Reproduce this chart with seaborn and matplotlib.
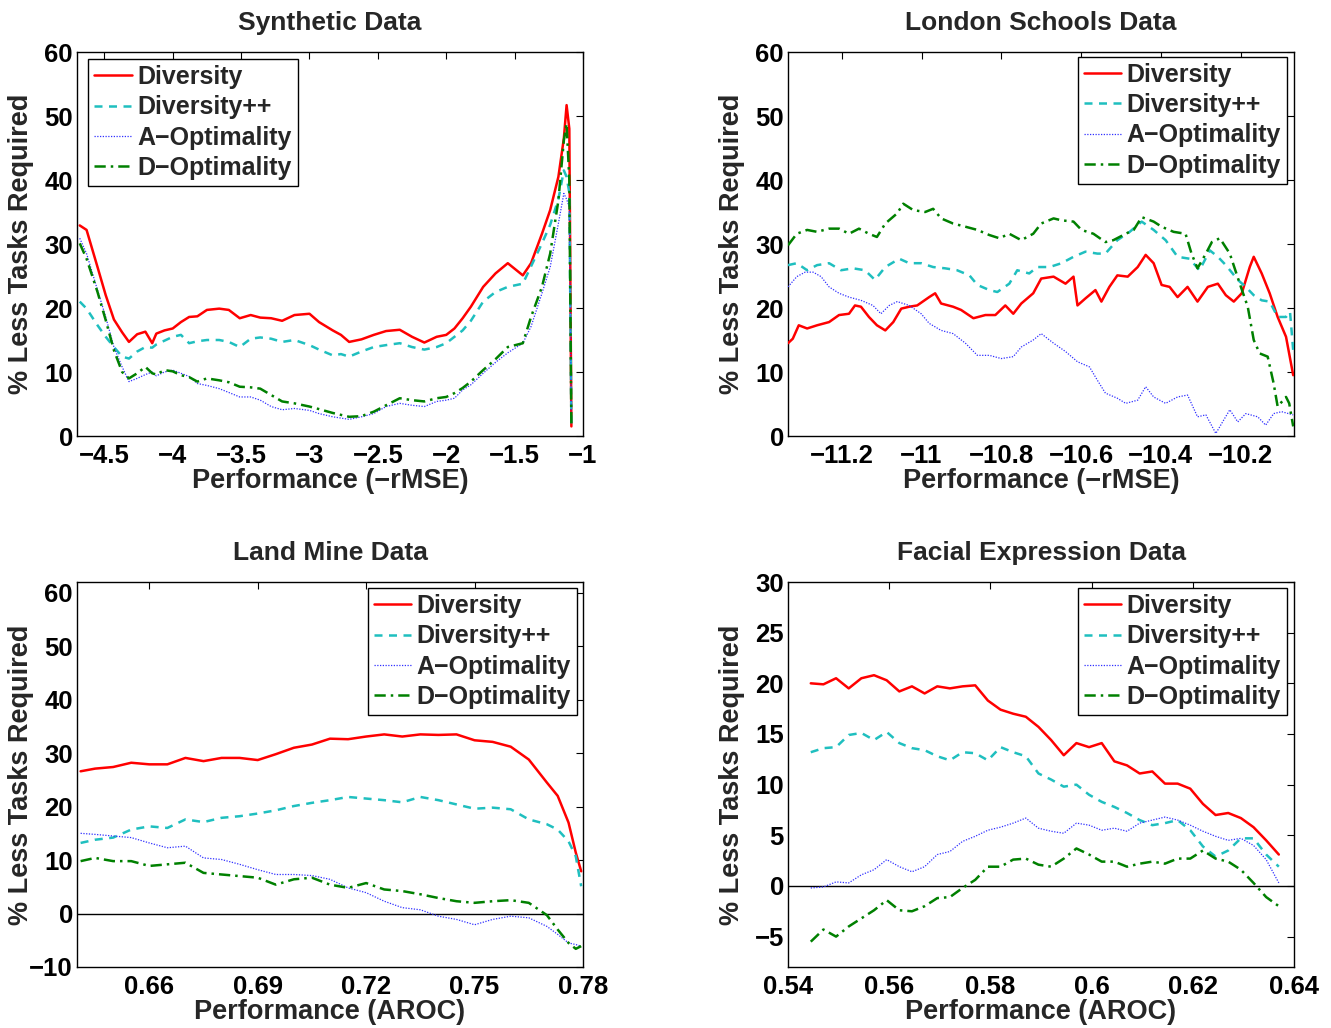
import pandas as pd
import matplotlib
matplotlib.use("Agg")
import matplotlib.pyplot as plt
import seaborn as sns

# =========================================================
# DATA
# =========================================================

METHODS = ["Diversity", "Diversity++", "A\u2212Optimality", "D\u2212Optimality"]

# --- Synthetic data ---
SYN_X = [-4.68, -4.63, -4.55, -4.49, -4.43, -4.37, -4.32, -4.26, -4.20, -4.15,
         -4.12, -4.06, -4.00, -3.94, -3.88, -3.82, -3.75, -3.66, -3.59, -3.51,
         -3.43, -3.36, -3.28, -3.20, -3.11, -3.00, -2.93, -2.83, -2.77, -2.71,
         -2.62, -2.53, -2.44, -2.34, -2.25, -2.16, -2.07, -2.00, -1.94, -1.88,
         -1.82, -1.73, -1.64, -1.55, -1.44, -1.38, -1.30, -1.24, -1.18, -1.14,
         -1.12, -1.10, -1.085]
SYN_DIV = [32.9, 32.2, 26.4, 22.0, 18.2, 16.2, 14.7, 15.9, 16.3, 14.5,
           16.0, 16.5, 16.8, 17.8, 18.6, 18.7, 19.7, 19.9, 19.7, 18.4,
           18.9, 18.5, 18.4, 18.0, 18.9, 19.1, 17.8, 16.5, 15.8, 14.7,
           15.1, 15.8, 16.4, 16.6, 15.5, 14.6, 15.5, 15.8, 16.8, 18.4,
           20.2, 23.3, 25.4, 27.0, 25.1, 27.0, 31.6, 35.3, 40.5, 46.5,
           51.7, 48.0, 1.5]
SYN_DIVPP = [21.0, 19.9, 17.3, 15.5, 13.9, 12.4, 12.1, 13.2, 13.9, 13.8,
             14.3, 14.9, 15.5, 15.8, 14.5, 14.8, 15.0, 15.0, 14.7, 13.9,
             15.2, 15.4, 15.2, 14.7, 15.0, 14.2, 13.5, 12.6, 12.8, 12.4,
             13.2, 13.9, 14.2, 14.5, 13.9, 13.5, 13.9, 14.5, 15.5, 16.5,
             18.0, 21.0, 22.5, 23.3, 23.8, 26.5, 30.1, 33.0, 37.0, 41.5,
             40.5, 38.0, 2.0]
SYN_AOPT = [30.9, 28.5, 22.8, 18.6, 13.9, 10.8, 8.5, 9.0, 9.6, 10.0,
            9.4, 10.0, 10.3, 9.8, 9.3, 8.2, 7.9, 7.4, 6.8, 6.1,
            6.1, 5.6, 4.6, 4.1, 4.3, 4.0, 3.5, 3.0, 2.8, 2.6,
            3.0, 3.5, 4.6, 5.1, 4.8, 4.6, 5.4, 5.6, 5.9, 7.2,
            8.0, 9.8, 11.5, 13.0, 14.5, 17.1, 22.3, 26.4, 33.2, 37.9,
            37.0, 35.8, 2.0]
SYN_DOPT = [30.1, 27.7, 22.5, 18.1, 13.4, 10.0, 9.0, 9.8, 10.8, 9.8,
            9.6, 10.3, 10.1, 9.5, 9.2, 8.5, 9.0, 8.7, 8.4, 7.7,
            7.6, 7.4, 6.4, 5.4, 5.1, 4.6, 4.2, 3.6, 3.3, 3.0,
            3.1, 3.8, 4.8, 5.9, 5.6, 5.4, 5.9, 6.1, 6.7, 7.5,
            8.5, 10.3, 12.0, 13.9, 14.5, 18.6, 23.3, 28.5, 36.8, 46.2,
            48.8, 40.0, 1.5]

# --- London schools data ---
LON_DIV_X = [-11.335, -11.323, -11.308, -11.287, -11.262, -11.232, -11.207, -11.182,
             -11.167, -11.152, -11.132, -11.112, -11.091, -11.071, -11.051, -11.031,
             -11.011, -10.981, -10.966, -10.951, -10.921, -10.901, -10.870, -10.840,
             -10.815, -10.790, -10.770, -10.750, -10.720, -10.700, -10.669, -10.639,
             -10.619, -10.609, -10.589, -10.564, -10.549, -10.529, -10.509, -10.483,
             -10.458, -10.438, -10.418, -10.398, -10.378, -10.358, -10.333, -10.308,
             -10.282, -10.257, -10.237, -10.217, -10.197, -10.177, -10.167, -10.147,
             -10.127, -10.107, -10.086, -10.068]
LON_DIV = [14.5, 15.2, 17.3, 16.8, 17.3, 17.8, 18.9, 19.1,
           20.4, 20.2, 18.6, 17.3, 16.5, 17.8, 19.9, 20.2,
           20.4, 21.7, 22.3, 20.7, 20.2, 19.7, 18.4, 18.9,
           18.9, 20.4, 19.1, 20.7, 22.3, 24.6, 24.9, 23.8,
           24.9, 20.4, 21.5, 22.8, 21.0, 23.3, 25.1, 24.9,
           26.4, 28.3, 27.0, 23.6, 23.3, 21.7, 23.3, 21.0,
           23.3, 23.8, 22.0, 21.0, 22.3, 26.4, 28.0, 25.4,
           22.3, 18.6, 15.5, 9.5]
LON_DIVPP_X = [-11.335, -11.313, -11.287, -11.262, -11.232, -11.202, -11.172, -11.142,
               -11.117, -11.091, -11.056, -11.031, -11.001, -10.971, -10.941, -10.911,
               -10.880, -10.860, -10.830, -10.810, -10.780, -10.760, -10.730, -10.710,
               -10.679, -10.649, -10.619, -10.589, -10.559, -10.539, -10.509, -10.478,
               -10.448, -10.418, -10.388, -10.358, -10.328, -10.303, -10.277, -10.257,
               -10.237, -10.207, -10.187, -10.167, -10.147, -10.127, -10.107, -10.086,
               -10.076, -10.068]
LON_DIVPP = [26.7, 27.0, 25.9, 26.7, 27.0, 25.9, 26.2, 25.9,
             24.4, 26.4, 27.7, 27.0, 27.0, 26.4, 26.2, 25.9,
             25.1, 23.6, 22.8, 22.5, 23.8, 25.9, 25.4, 26.4,
             26.4, 27.0, 28.0, 28.8, 28.5, 28.5, 30.6, 31.9,
             33.5, 32.2, 30.6, 28.0, 27.7, 25.9, 29.0, 28.0,
             26.7, 24.4, 23.3, 22.0, 21.2, 21.0, 18.6, 18.6,
             19.4, 13.4]
LON_AOPT_X = [-11.335, -11.313, -11.292, -11.272, -11.252, -11.232, -11.207, -11.182,
              -11.152, -11.122, -11.102, -11.081, -11.061, -11.031, -11.001, -10.981,
              -10.951, -10.921, -10.890, -10.860, -10.830, -10.800, -10.770, -10.750,
              -10.720, -10.700, -10.669, -10.639, -10.609, -10.579, -10.559, -10.539,
              -10.509, -10.488, -10.458, -10.438, -10.418, -10.388, -10.358, -10.333,
              -10.308, -10.287, -10.262, -10.247, -10.227, -10.207, -10.187, -10.157,
              -10.137, -10.117, -10.097, -10.068]
LON_AOPT = [23.3, 24.9, 25.6, 25.6, 24.9, 23.3, 22.3, 21.7,
            21.2, 20.4, 19.1, 20.4, 21.0, 20.4, 19.1, 17.6,
            16.5, 16.0, 14.5, 12.6, 12.6, 12.1, 12.4, 13.9,
            15.0, 16.0, 14.5, 13.2, 11.6, 10.8, 8.7, 6.7,
            5.9, 5.1, 5.6, 7.7, 6.1, 5.1, 6.1, 6.4,
            3.0, 3.3, 0.4, 2.0, 4.1, 2.2, 3.5, 3.0,
            1.7, 3.5, 3.8, 3.3]
LON_DOPT_X = [-11.335, -11.313, -11.287, -11.262, -11.232, -11.207, -11.182, -11.157,
              -11.132, -11.112, -11.091, -11.061, -11.046, -11.021, -10.991, -10.971,
              -10.951, -10.921, -10.890, -10.860, -10.830, -10.805, -10.780, -10.750,
              -10.720, -10.700, -10.669, -10.649, -10.619, -10.599, -10.569, -10.539,
              -10.519, -10.488, -10.468, -10.448, -10.418, -10.398, -10.368, -10.338,
              -10.323, -10.308, -10.287, -10.272, -10.252, -10.227, -10.202, -10.182,
              -10.167, -10.152, -10.132, -10.117, -10.107, -10.086, -10.078, -10.068]
LON_DOPT = [29.8, 31.6, 32.2, 31.9, 32.4, 32.4, 31.6, 32.4,
            31.6, 31.1, 33.2, 34.8, 36.3, 35.3, 35.0, 35.5,
            34.0, 33.2, 32.7, 32.2, 31.4, 30.9, 31.6, 30.6,
            31.6, 33.2, 34.0, 33.7, 33.5, 32.2, 31.6, 30.3,
            30.6, 31.6, 32.2, 34.2, 33.5, 32.7, 31.9, 31.6,
            28.5, 26.2, 28.5, 30.3, 30.9, 28.5, 23.8, 20.2,
            15.0, 12.9, 12.4, 8.2, 4.6, 6.1, 5.1, 1.5]

# --- Land mine data ---
MINE_X = [0.641, 0.645, 0.650, 0.655, 0.660, 0.665, 0.670, 0.675, 0.680, 0.685,
          0.690, 0.695, 0.700, 0.705, 0.710, 0.715, 0.720, 0.725, 0.730, 0.735,
          0.740, 0.745, 0.750, 0.755, 0.760, 0.765, 0.770, 0.773, 0.776, 0.778,
          0.7795]
MINE_DIV = [26.6, 27.1, 27.4, 28.2, 27.9, 27.9, 29.1, 28.5, 29.1, 29.1,
            28.7, 29.8, 31.0, 31.6, 32.7, 32.6, 33.1, 33.5, 33.1, 33.5,
            33.4, 33.5, 32.4, 32.1, 31.2, 28.8, 24.5, 22.0, 17.0, 11.4,
            7.9]
MINE_DIVPP = [13.2, 13.8, 14.2, 15.7, 16.3, 16.0, 17.6, 17.1, 17.9, 18.2,
              18.7, 19.3, 20.1, 20.7, 21.2, 21.8, 21.5, 21.2, 20.8, 21.8,
              21.2, 20.4, 19.6, 19.8, 19.5, 17.6, 16.7, 15.7, 13.5, 10.7,
              5.1]
MINE_AOPT = [15.0, 14.8, 14.5, 14.2, 13.2, 12.3, 12.6, 10.4, 10.1, 9.2,
             8.2, 7.3, 7.3, 7.1, 6.4, 4.8, 3.9, 2.3, 1.1, 0.7,
             -0.5, -1.1, -2.1, -1.1, -0.5, -0.8, -2.4, -3.9, -5.5, -5.8,
             -6.1]
MINE_DOPT = [9.8, 10.4, 9.8, 9.8, 8.9, 9.2, 9.5, 7.6, 7.3, 7.0,
             6.7, 5.4, 6.4, 6.7, 5.4, 4.8, 5.7, 4.5, 4.2, 3.6,
             2.9, 2.3, 2.0, 2.3, 2.5, 2.0, -0.3, -3.0, -5.5, -6.6,
             -6.1]

# --- Facial expression data ---
FACE_X = [0.5445, 0.547, 0.5495, 0.552, 0.5545, 0.557, 0.5595, 0.562, 0.5645, 0.567,
          0.5695, 0.572, 0.5745, 0.577, 0.5795, 0.582, 0.5845, 0.587, 0.5895, 0.592,
          0.5945, 0.597, 0.5995, 0.602, 0.6045, 0.607, 0.6095, 0.612, 0.6145, 0.617,
          0.6195, 0.622, 0.6245, 0.627, 0.6295, 0.632, 0.6345, 0.637]
FACE_DIV = [20.0, 19.9, 20.5, 19.5, 20.5, 20.8, 20.3, 19.2, 19.7, 19.0,
            19.7, 19.5, 19.7, 19.8, 18.3, 17.4, 17.0, 16.7, 15.7, 14.4,
            12.9, 14.1, 13.7, 14.1, 12.3, 11.9, 11.1, 11.3, 10.1, 10.1,
            9.6, 8.1, 7.0, 7.2, 6.7, 5.8, 4.5, 3.1]
FACE_DIVPP = [13.2, 13.6, 13.7, 14.9, 15.1, 14.4, 15.2, 14.1, 13.6, 13.4,
              12.8, 12.4, 13.2, 13.1, 12.4, 13.7, 13.2, 12.8, 11.1, 10.5,
              9.8, 10.0, 9.0, 8.3, 7.8, 7.2, 6.5, 6.0, 6.2, 6.5,
              5.5, 3.9, 2.9, 3.5, 4.7, 4.7, 3.1, 1.9]
FACE_AOPT = [-0.2, -0.1, 0.4, 0.3, 1.1, 1.6, 2.6, 1.9, 1.4, 1.9,
             3.1, 3.4, 4.4, 4.9, 5.5, 5.8, 6.2, 6.7, 5.7, 5.4,
             5.2, 6.2, 6.0, 5.5, 5.7, 5.4, 6.2, 6.5, 6.8, 6.5,
             6.0, 5.4, 4.9, 4.5, 4.7, 4.0, 2.6, 0.3]
FACE_DOPT = [-5.5, -4.3, -5.0, -4.0, -3.2, -2.4, -1.4, -2.4, -2.5, -2.0,
             -1.2, -1.1, -0.2, 0.6, 1.9, 1.9, 2.6, 2.7, 2.1, 1.9,
             2.7, 3.7, 3.1, 2.4, 2.4, 1.9, 2.2, 2.4, 2.2, 2.7,
             2.7, 3.5, 2.7, 2.4, 1.6, 0.3, -1.1, -2.0]

# ticks
SYN_XTICKS = [-4.5, -4, -3.5, -3, -2.5, -2, -1.5, -1]
SYN_XTICKLABELS = ["\u22124.5", "\u22124", "\u22123.5", "\u22123",
                   "\u22122.5", "\u22122", "\u22121.5", "\u22121"]
LON_XTICKS = [-11.2, -11, -10.8, -10.6, -10.4, -10.2]
LON_XTICKLABELS = ["\u221211.2", "\u221211", "\u221210.8", "\u221210.6",
                   "\u221210.4", "\u221210.2"]
MINE_XTICKS = [0.66, 0.69, 0.72, 0.75, 0.78]
MINE_XTICKLABELS = ["0.66", "0.69", "0.72", "0.75", "0.78"]
FACE_XTICKS = [0.54, 0.56, 0.58, 0.60, 0.62, 0.64]
FACE_XTICKLABELS = ["0.54", "0.56", "0.58", "0.6", "0.62", "0.64"]

# =========================================================
# STYLE
# =========================================================

sns.set_theme(style="white")
plt.rcParams.update({
    'font.family': ['Liberation Sans', 'DejaVu Sans'],
    'font.weight': 'bold',
    'axes.titleweight': 'bold',
    'axes.labelweight': 'bold',
    'axes.edgecolor': 'black',
    'axes.linewidth': 1.0,
    'axes.unicode_minus': True,
})

LINE_STYLES = {
    METHODS[0]: dict(color='#ff0000', linestyle='-', linewidth=1.8),
    METHODS[1]: dict(color='#1fbfbf', linestyle=(0, (3.2, 2.6)), linewidth=1.8),
    METHODS[2]: dict(color='#3030ff', linestyle=(0, (1, 1.2)), linewidth=0.9),
    METHODS[3]: dict(color='#008000', linestyle=(0, (4.5, 2, 1, 2)), linewidth=1.8),
}

TICK_FS = 18.5
TITLE_FS = 19
LABEL_FS = 19.5
LEGEND_FS = 18


def make_frame(series):
    rows = []
    for name, (xs, ys) in zip(METHODS, series):
        rows.append(pd.DataFrame({'x': xs, 'y': ys, 'method': name}))
    return pd.concat(rows, ignore_index=True)


def draw_panel(ax, df, title, xlabel, xlim, ylim, xticks, xticklabels, yticks,
               legend_loc, legend_anchor, zero_line=False):
    if zero_line:
        ax.axhline(0, color='black', linewidth=1.0, zorder=1)
    for name in METHODS:
        sub = df[df['method'] == name]
        sns.lineplot(data=sub, x='x', y='y', ax=ax, sort=False, estimator=None,
                     label=name, zorder=3, **LINE_STYLES[name])
    ax.set_xlim(*xlim)
    ax.set_ylim(*ylim)
    ax.set_xticks(xticks)
    ax.set_xticklabels(xticklabels)
    ax.set_yticks(yticks)
    ax.set_yticklabels([str(v).replace('-', '\u2212') for v in yticks])
    ax.tick_params(direction='in', top=True, right=True, length=5, width=0.8,
                   labelsize=TICK_FS, colors='black')
    ax.tick_params(axis='x', pad=6)
    ax.tick_params(axis='y', pad=3)
    for lab in ax.get_xticklabels() + ax.get_yticklabels():
        lab.set_fontweight('bold')
    ax.set_title(title, fontsize=TITLE_FS, fontweight='bold', pad=16)
    ax.set_xlabel(xlabel, fontsize=LABEL_FS, fontweight='bold', labelpad=0)
    ax.set_ylabel("% Less Tasks Required", fontsize=LABEL_FS, fontweight='bold')
    ax.yaxis.set_label_coords(-0.085, 0.5)
    for sp in ax.spines.values():
        sp.set_visible(True)
        sp.set_color('black')
        sp.set_linewidth(1.0)
    leg = ax.legend(loc=legend_loc, bbox_to_anchor=legend_anchor, borderaxespad=0.,
                    fancybox=False, framealpha=1, edgecolor='black',
                    prop={'size': LEGEND_FS, 'weight': 'bold'}, handlelength=1.5,
                    handletextpad=0.2, labelspacing=0.25, borderpad=0.25)
    leg.get_frame().set_linewidth(1.0)


def main():
    fig = plt.figure(figsize=(13.31, 10.28), dpi=100)

    W = 506 / 1331
    ax_tl = fig.add_axes([77 / 1331, 1 - 436 / 1028, W, 384 / 1028])
    ax_tr = fig.add_axes([788 / 1331, 1 - 436 / 1028, W, 384 / 1028])
    ax_bl = fig.add_axes([77 / 1331, 1 - 967 / 1028, W, 385 / 1028])
    ax_br = fig.add_axes([788 / 1331, 1 - 967 / 1028, W, 385 / 1028])

    syn = make_frame([(SYN_X, SYN_DIV), (SYN_X, SYN_DIVPP),
                      (SYN_X, SYN_AOPT), (SYN_X, SYN_DOPT)])
    lon = make_frame([(LON_DIV_X, LON_DIV), (LON_DIVPP_X, LON_DIVPP),
                      (LON_AOPT_X, LON_AOPT), (LON_DOPT_X, LON_DOPT)])
    mine = make_frame([(MINE_X, MINE_DIV), (MINE_X, MINE_DIVPP),
                       (MINE_X, MINE_AOPT), (MINE_X, MINE_DOPT)])
    face = make_frame([(FACE_X, FACE_DIV), (FACE_X, FACE_DIVPP),
                       (FACE_X, FACE_AOPT), (FACE_X, FACE_DOPT)])

    draw_panel(ax_tl, syn, "Synthetic Data", "Performance (\u2212rMSE)",
               (-4.7, -1.0), (0, 60), SYN_XTICKS, SYN_XTICKLABELS,
               list(range(0, 61, 10)), 'upper left', (0.022, 0.982))
    draw_panel(ax_tr, lon, "London Schools Data", "Performance (\u2212rMSE)",
               (-11.335, -10.066), (0, 60), LON_XTICKS, LON_XTICKLABELS,
               list(range(0, 61, 10)), 'upper right', (0.986, 0.988))
    draw_panel(ax_bl, mine, "Land Mine Data", "Performance (AROC)",
               (0.64, 0.78), (-10, 62), MINE_XTICKS, MINE_XTICKLABELS,
               list(range(-10, 61, 10)), 'upper right', (0.988, 0.985),
               zero_line=True)
    draw_panel(ax_br, face, "Facial Expression Data", "Performance (AROC)",
               (0.54, 0.64), (-8, 30), FACE_XTICKS, FACE_XTICKLABELS,
               list(range(-5, 31, 5)), 'upper right', (0.986, 0.985),
               zero_line=True)

    fig.savefig("out.png", dpi=100, facecolor='white')
    plt.close(fig)


if __name__ == "__main__":
    main()
